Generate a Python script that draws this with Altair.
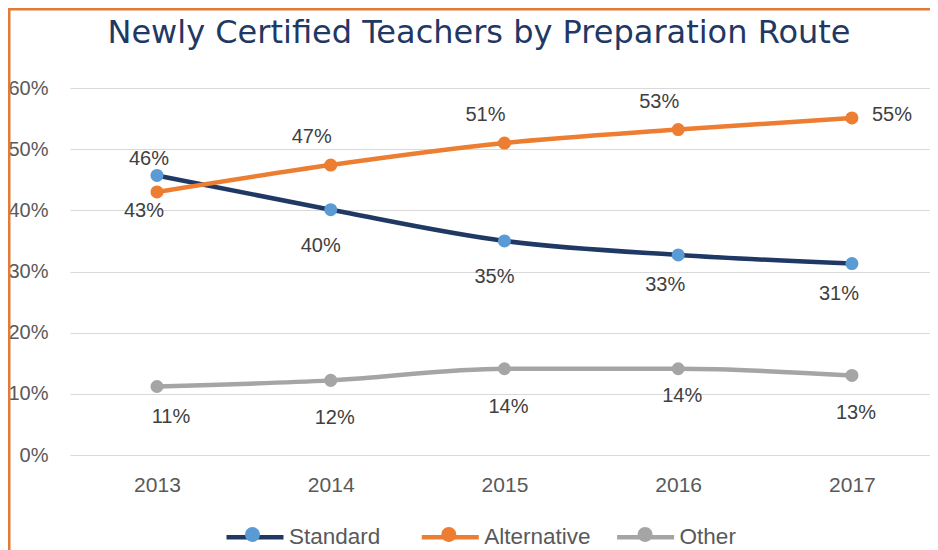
import altair as alt
import pandas as pd

# ---- data ----
years = ["2013", "2014", "2015", "2016", "2017"]
series_names = ["Standard", "Alternative", "Other"]
standard = [0.457, 0.401, 0.350, 0.327, 0.313]
alternative = [0.430, 0.474, 0.510, 0.532, 0.551]
other = [0.112, 0.122, 0.141, 0.141, 0.130]
# label placement style for each data label
standard_label_pos = ["above", "below_left_far", "below_left_far", "below_left", "below_left"]
alternative_label_pos = ["below_left_near", "above_left", "above_left", "above_left", "right"]
other_label_pos = ["below_right", "below", "below", "below_near", "below"]
y_ticks = [0, 0.1, 0.2, 0.3, 0.4, 0.5, 0.6]
title_text = "Newly Certified Teachers by Preparation Route"

# ---- styles ----
line_colors = ["#1f3864", "#ed7d31", "#a5a5a5"]
marker_colors = ["#5b9bd5", "#ed7d31", "#a5a5a5"]
FONT = "Liberation Sans"
W, H = 860, 367
PAD = {"left": 62, "top": 80, "right": 0, "bottom": 95}
BORDER = "#e07b39"
# pixel offsets (dx, dy) of each label style
LABEL_STYLES = {
    "above": dict(dx=-8, dy=-16),
    "above_left": dict(dx=-19, dy=-28),
    "below_left_far": dict(dx=-10, dy=36),
    "below_left": dict(dx=-13, dy=30),
    "below_left_near": dict(dx=-13, dy=19),
    "below": dict(dx=4, dy=38),
    "below_near": dict(dx=4, dy=27),
    "below_right": dict(dx=14, dy=31),
}

rows = []
for name, vals, poss in zip(series_names,
                            [standard, alternative, other],
                            [standard_label_pos, alternative_label_pos, other_label_pos]):
    for yr, v, p in zip(years, vals, poss):
        rows.append({"year": yr, "series": name, "value": v, "pos": p})
df = pd.DataFrame(rows)

x_enc = alt.X("year:O", sort=years,
              scale=alt.Scale(type="point", padding=0.475, align=0.527),
              axis=alt.Axis(title=None, labelAngle=0, labelFont=FONT, labelFontSize=21,
                            labelColor="#595959", labelPadding=19, ticks=False,
                            domain=False, grid=False))
y_enc = alt.Y("value:Q",
              scale=alt.Scale(domain=[0, 0.6], nice=False, zero=True),
              axis=alt.Axis(title=None, format=".0%", values=y_ticks, labelFont=FONT,
                            labelFontSize=20, labelColor="#595959", labelPadding=22,
                            ticks=False, domain=False, gridColor="#d9d9d9", gridWidth=1))

base = alt.Chart(df).encode(x=x_enc, y=y_enc)

legend_common = dict(title=None, orient="none", legendX=154, legendY=418,
                     direction="horizontal", symbolSize=3249, labelFont=FONT,
                     labelFontSize=22.5, labelColor="#595959", labelOffset=3,
                     gridAlign="all")

lines = base.mark_line(strokeWidth=4.5, interpolate="monotone").encode(
    color=alt.Color("series:N", sort=series_names,
                    scale=alt.Scale(domain=series_names, range=line_colors),
                    legend=alt.Legend(symbolType="stroke", symbolStrokeWidth=4.5,
                                      columnPadding=16.3, **legend_common)))

# marker legend: no labels, same column stride as the line legend
circle_path = "M0.26,0A0.26,0.26,0,1,1,-0.26,0A0.26,0.26,0,1,1,0.26,0Z"
points = base.mark_circle(size=170, opacity=1).encode(
    color=alt.Color("series:N", sort=series_names,
                    scale=alt.Scale(domain=series_names, range=marker_colors),
                    legend=alt.Legend(symbolType=circle_path, symbolStrokeWidth=0,
                                      symbolOpacity=1, labelExpr="''",
                                      columnPadding=136.3, **legend_common)))


def labels(pos, **kw):
    return base.transform_filter(alt.datum.pos == pos).mark_text(
        font=FONT, fontSize=20, color="#404040", baseline="middle", **kw
    ).encode(text=alt.Text("value:Q", format=".0%"))


label_layers = [labels(name, **off) for name, off in LABEL_STYLES.items()]
label_layers.append(labels("right", align="left", dx=20, dy=-3))

one = alt.Data(values=[{"k": 1}])
title_mark = alt.Chart(one).mark_text(
    text=title_text, font="DejaVu Sans", fontSize=32, color="#1f3864",
    align="center", baseline="alphabetic").encode(x=alt.value(409), y=alt.value(-45))
border_top = alt.Chart(one).mark_rule(color=BORDER, strokeWidth=2.5).encode(
    x=alt.value(-PAD["left"]), x2=alt.value(W), y=alt.value(-PAD["top"] + 1.25))
border_left = alt.Chart(one).mark_rule(color=BORDER, strokeWidth=2.5).encode(
    x=alt.value(-PAD["left"] + 1.25), y=alt.value(-PAD["top"]), y2=alt.value(H + PAD["bottom"]))

chart = alt.layer(
    lines, points, *label_layers, title_mark, border_top, border_left
).resolve_scale(color="independent").properties(
    width=W, height=H,
    autosize=alt.AutoSizeParams(type="none"),
    padding=PAD,
    background="white",
).configure_view(stroke=None)

chart.save("out.html", embed_options={"renderer": "svg", "actions": False})
